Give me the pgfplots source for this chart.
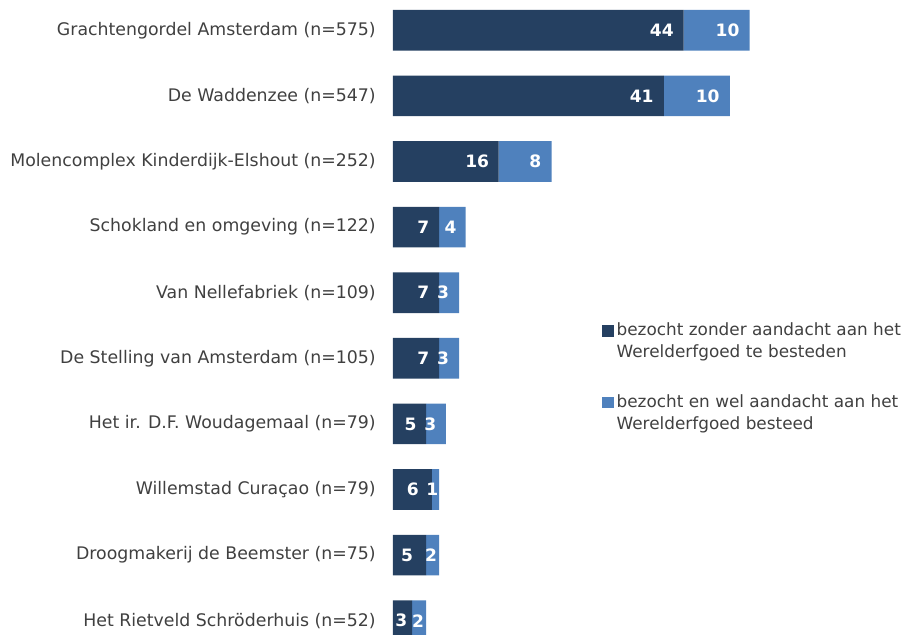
\documentclass[border=0pt]{standalone}
\usepackage{fontspec}
\setmainfont{DejaVu Sans}
\usepackage{pgfplots}
\usepackage{pgfplotstable}
\pgfplotsset{compat=1.18}
\definecolor{darkbar}{HTML}{254061}
\definecolor{lightbar}{HTML}{4F81BD}
\definecolor{txt}{HTML}{404040}

\pgfplotstableread{
y val lab pad
0 44 44 9.7
1 41 41 10
2 16 16 9.3
3 7 7 9.7
4 7 7 9.7
5 7 7 9.7
6 5 5 9.3
7 5.9 6 13
8 5 5 12.7
9 2.9 3 4.6
}\darktab

\pgfplotstableread{
y val lab pad
0 10 10 10
1 10 10 10
2 8 8 10
3 4 4 9
4 3 3 9.7
5 3 3 9.7
6 3 3 9.3
7 1.1 1 0.6
8 2 2 2
9 2.1 2 1.7
}\lighttab

\begin{document}
\begin{tikzpicture}
\begin{axis}[
  scale only axis,
  width=384.75pt, height=475.5pt,
  xbar stacked,
  bar width=30.5pt,
  xmin=0, xmax=77.67,
  ymin=-0.462, ymax=9.203,
  y dir=reverse,
  axis line style={draw=none},
  xtick=\empty,
  ytick={0,...,9},
  yticklabels={Grachtengordel Amsterdam (n=575),De Waddenzee (n=547),Molencomplex Kinderdijk-Elshout (n=252),Schokland en omgeving (n=122),Van Nellefabriek (n=109),De Stelling van Amsterdam (n=105),Het ir. D.F. Woudagemaal (n=79),Willemstad Curaçao (n=79),Droogmakerij de Beemster (n=75),Het Rietveld Schröderhuis (n=52)},
  major tick length=0pt,
  ytick style={draw=none},
  yticklabel style={inner sep=0pt, xshift=-12.75pt, text=txt, font=\fontsize{13.0}{16.5}\selectfont},
  point meta=explicit symbolic,
  nodes near coords,
  visualization depends on={0.75*(3.3025*\thisrow{val}-\thisrow{pad})\as\mypad},
  every node near coord/.append style={anchor=east, inner sep=0pt, xshift=\mypad pt, text=white, font=\fontsize{12.8}{16.5}\selectfont\bfseries},
  legend image code/.code={\fill[#1,draw=none] (0pt,3.2pt) rectangle (8.8pt,12pt);},
  legend style={at={(rel axis cs:0.4074,0.4955)}, anchor=north west, draw=none, fill=none, inner sep=0pt, row sep=22pt,
     cells={anchor=west, align=left}, font=\fontsize{12.65}{16.5}\selectfont, text=txt,
     /tikz/every even column/.append style={column sep=2.2pt}},
  legend cell align=left,
]
\addplot[fill=darkbar, draw=none] table[x=val, y=y, meta=lab] {\darktab};
\addplot[fill=lightbar, draw=none] table[x=val, y=y, meta=lab] {\lighttab};
\legend{{bezocht zonder aandacht aan het\\Werelderfgoed te besteden},{bezocht en wel aandacht aan het\\Werelderfgoed besteed}}
\coordinate (bl) at (rel axis cs:0,0);
\coordinate (tr) at (rel axis cs:1,1);
\end{axis}
\pgfresetboundingbox
\path (bl) ++(-294.75pt,0pt) rectangle (tr);
\end{tikzpicture}
\end{document}
